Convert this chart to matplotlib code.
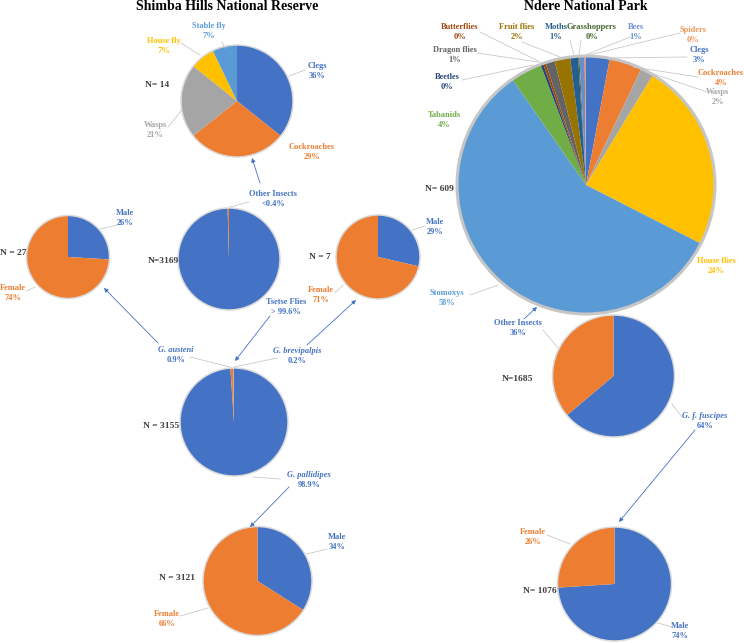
import matplotlib.pyplot as plt
from matplotlib.patches import Circle

plt.rcParams['font.family'] = ['Liberation Serif', 'DejaVu Serif']

W, H = 744, 643

# Excel default palette (slice order)
XL = ['#4472C4', '#ED7D31', '#A5A5A5', '#FFC000', '#5B9BD5', '#70AD47',
      '#264478', '#9E480E', '#636363', '#997300', '#255E91', '#43682B',
      '#698ED0', '#F1975A']

# ---- Shimba Hills National Reserve ----
shimba_other_names = ['Clegs', 'Cockroaches', 'Wasps', 'House fly', 'Stable fly']
shimba_other_counts = [5, 4, 3, 1, 1]

shimba_total_names = ['Tsetse Flies', 'Other Insects']
shimba_total_counts = [3155, 14]
shimba_total_pct = ['> 99.6%', '<0.4%']

shimba_species_names = ['G. pallidipes', 'G. austeni', 'G. brevipalpis']
shimba_species_counts = [3121, 27, 7]

sex_names = ['Male', 'Female']
austeni_sex = [7, 20]
brevipalpis_sex = [2, 5]
pallidipes_sex = [1061, 2060]

# ---- Ndere National Park ----
ndere_names = ['Clegs', 'Cockroaches', 'Wasps', 'House flies', 'Stomoxys',
               'Tabanids', 'Beetles', 'Butterflies', 'Dragon flies',
               'Fruit flies', 'Moths', 'Grasshoppers', 'Bees', 'Spiders']
ndere_counts = [18, 25, 10, 145, 352, 24, 2, 2, 7, 12, 6, 1, 4, 1]

ndere_total_names = ['G. f. fuscipes', 'Other Insects']
ndere_total_counts = [1076, 609]
fuscipes_sex = [796, 280]

fig = plt.figure(figsize=(W / 100, H / 100), dpi=100)
ax = fig.add_axes([0, 0, 1, 1])

BLUE = XL[0]
ORANGE = XL[1]
NCOL = '#404040'
LEAD = '#C9C9C9'


def pie(cx, cy, r, values, colors, rim='#DADADA', rim_lw=1.1):
    ax.pie(values, colors=colors, center=(cx, H - cy), radius=r,
           startangle=90, counterclock=False,
           wedgeprops=dict(linewidth=0))
    ax.add_patch(Circle((cx, H - cy), r, fill=False, ec=rim, lw=rim_lw))


def label(x, y, name, pct, color, italic=False, fs=6):
    ax.text(x, H - y + 4.6, name, ha='center', va='center', fontsize=fs,
            color=color, weight='bold', style='italic' if italic else 'normal')
    ax.text(x, H - y - 4.6, pct, ha='center', va='center', fontsize=fs,
            color=color, weight='bold')


def ntext(x, y, s, ha='center'):
    ax.text(x, H - y, s, ha=ha, va='center', fontsize=6.8, color=NCOL,
            weight='bold')


def lead(x1, y1, x2, y2):
    ax.plot([x1, x2], [H - y1, H - y2], color=LEAD, lw=0.6)


def arrow(x1, y1, x2, y2):
    ax.annotate('', xy=(x2, H - y2), xytext=(x1, H - y1),
                arrowprops=dict(arrowstyle='-|>', color=BLUE, lw=0.6,
                                mutation_scale=6, shrinkA=0, shrinkB=0))


def pct(values):
    tot = sum(values)
    return [f'{round(100 * v / tot)}%' for v in values]


# titles
ax.text(227, H - 6, 'Shimba Hills National Reserve', ha='center', va='center',
        fontsize=10, weight='bold')
ax.text(586, H - 6, 'Ndere National Park', ha='center', va='center',
        fontsize=10, weight='bold')

# ---- Shimba: other insects (N=14)
pie(237, 101, 56, shimba_other_counts, XL[:5])
p = pct(shimba_other_counts)
cols = XL[:5]
pos = [(317, 71), (312, 152), (155, 130), (164, 46), (209, 31)]
for (x, y), n, s, c in zip(pos, shimba_other_names, p, cols):
    label(x, y, n, s, c)
lead(289, 76, 305, 70)
lead(168, 127, 182, 110)
lead(181, 43, 200, 55)
lead(222, 42, 225, 48)
ntext(157, 85, f'N= {sum(shimba_other_counts)}')

# ---- Shimba: all insects (N=3169)
pie(229, 259, 51, shimba_total_counts, [BLUE, ORANGE])
label(286, 307, shimba_total_names[0], shimba_total_pct[0], BLUE)
label(273, 199, shimba_total_names[1], shimba_total_pct[1], BLUE)
lead(230, 207, 249, 202)
ntext(179, 261, f'N={sum(shimba_total_counts)}', ha='right')
arrow(260, 183, 252, 158)

# ---- Shimba: tsetse species (N=3155)
pie(234, 422, 54, shimba_species_counts, [BLUE, ORANGE, '#A5A5A5'])
tot = sum(shimba_species_counts)
sp = [f'{100 * v / tot:.1f}%' for v in shimba_species_counts]
label(309, 480, shimba_species_names[0], sp[0], BLUE, italic=True)
label(176, 355, shimba_species_names[1], sp[1], BLUE, italic=True)
label(297, 356, shimba_species_names[2], sp[2], BLUE, italic=True)
lead(253, 477, 280, 479)
lead(190, 357, 230, 367)
lead(234, 367, 277, 358)
ntext(179, 426, f'N = {tot}', ha='right')
arrow(270, 316, 235, 361)
arrow(158, 343, 104, 288)
arrow(307, 345, 356, 300)
arrow(289, 487, 250, 527)

# ---- sex ratio pies (Shimba)
pie(68, 257, 41.5, austeni_sex, [BLUE, ORANGE])
p = pct(austeni_sex)
label(125, 218, sex_names[0], p[0], BLUE)
label(13, 293, sex_names[1], p[1], ORANGE)
lead(100, 229, 117, 225)
lead(27, 291, 35, 287)
ntext(26, 253, f'N = {sum(austeni_sex)}', ha='right')

pie(378, 257, 42, brevipalpis_sex, [BLUE, ORANGE])
p = pct(brevipalpis_sex)
label(435, 227, sex_names[0], p[0], BLUE)
label(321, 295, sex_names[1], p[1], ORANGE)
lead(412, 230, 425, 226)
lead(335, 293, 343, 285)
ntext(320, 257, f'N = {sum(brevipalpis_sex)}')

pie(257.5, 581, 54.5, pallidipes_sex, [BLUE, ORANGE])
p = pct(pallidipes_sex)
label(337, 542, sex_names[0], p[0], BLUE)
label(167, 619, sex_names[1], p[1], ORANGE)
lead(307, 554, 327, 549)
lead(180, 616, 208, 608)
ntext(195, 578, f'N = {sum(pallidipes_sex)}', ha='right')

# ---- Ndere: other insects (N=609)
pie(586, 185, 129, ndere_counts, XL, rim='#C6C6C6', rim_lw=2.2)
p = pct(ndere_counts)
npos = [(699, 55), (721, 78), (718, 97), (716, 266), (447, 298),
        (444, 120), (447, 82), (460, 32), (455, 55), (517, 32),
        (556, 32), (592, 32), (636, 32), (693, 35)]
for (x, y), n, s, c in zip(npos, ndere_names, p, XL):
    label(x, y, n, s, c)
lead(687, 57, 603, 58)
lead(698, 77, 633, 67)
lead(707, 92, 642, 70)
lead(470, 295, 498, 285)
lead(462, 80, 533, 65)
lead(480, 32, 540, 62)
lead(477, 53, 538, 62)
lead(522, 42, 560, 57)
lead(570, 40, 574, 55)
lead(581, 40, 579, 55)
lead(630, 37, 583, 56)
lead(680, 33, 585, 56)
ntext(454, 189, f'N= {sum(ndere_counts)}', ha='right')

# ---- Ndere: all insects (N=1685)
pie(613.5, 376, 61, ndere_total_counts, [BLUE, ORANGE])
p = pct(ndere_total_counts)
label(705, 421, ndere_total_names[0], p[0], BLUE, italic=True)
label(518, 328, ndere_total_names[1], p[1], BLUE)
lead(672, 404, 682, 417)
lead(543, 330, 558, 348)
arrow(524, 319, 537, 307)
ntext(518, 379, f'N={sum(ndere_total_counts)}')
arrow(695, 430, 619, 522)

# ---- Ndere: fuscipes sex (N=1076)
pie(614.5, 584, 57, fuscipes_sex, [BLUE, ORANGE])
p = pct(fuscipes_sex)
label(680, 631, sex_names[0], p[0], BLUE)
label(533, 537, sex_names[1], p[1], ORANGE)
lead(547, 535, 570, 544)
lead(658, 623, 672, 627)
ntext(557, 591, f'N= {sum(fuscipes_sex)}', ha='right')

ax.set_xlim(0, W)
ax.set_ylim(0, H)
ax.set_aspect('auto')
ax.axis('off')

fig.savefig('out.png', dpi=100)
